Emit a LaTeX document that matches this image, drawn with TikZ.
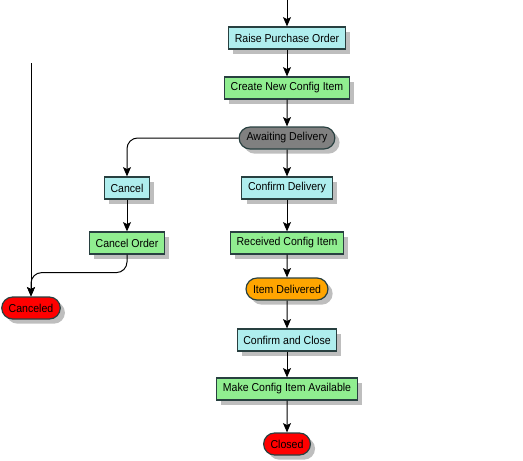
\documentclass[tikz,border=0pt]{standalone}
\usepackage{fontspec}
\setmainfont[FakeStretch=0.92]{Liberation Sans}
\definecolor{wfTask}{RGB}{175, 238, 238}
\definecolor{wfItem}{RGB}{144, 238, 144}
\definecolor{wfWait}{RGB}{128, 128, 128}
\definecolor{wfDone}{RGB}{255, 165, 0}
\definecolor{wfStop}{RGB}{255, 0, 0}
\definecolor{wfEdge}{RGB}{40, 64, 64}
\definecolor{wfShade}{RGB}{190, 190, 190}
\usetikzlibrary{shapes.misc, arrows.meta, shadows, positioning}

\begin{document}
\begin{tikzpicture}[x=0.75pt, y=-0.75pt,
    base/.style={draw=wfEdge, line width=0.9pt, minimum height=16.5pt, inner xsep=4.6pt,
      font=\fontsize{8.6}{10}\selectfont,
      drop shadow={shadow xshift=3.5pt, shadow yshift=-3.5pt, fill=wfShade, opacity=1}},
    taskbox/.style={base, fill=wfTask},
    itembox/.style={base, fill=wfItem},
    waitpill/.style={base, rounded rectangle, fill=wfWait},
    donepill/.style={base, rounded rectangle, fill=wfDone},
    stoppill/.style={base, rounded rectangle, fill=wfStop},
    flow/.style={line width=0.75pt, -{Stealth[length=7pt, width=6pt, inset=1.5pt]}}]
  \useasboundingbox (0,0) rectangle (523,460);

  % main column
  \foreach \nm/\txt/\kind/\y in {
    raise/Raise Purchase Order/taskbox/38,
    create/Create New Config Item/itembox/88,
    await/Awaiting Delivery/waitpill/138,
    confirm/Confirm Delivery/taskbox/188,
    received/Received Config Item/itembox/243,
    delivered/Item Delivered/donepill/289,
    close/Confirm and Close/taskbox/340,
    avail/Make Config Item Available/itembox/389,
    closed/Closed/stoppill/444%
  } {
    \node[\kind] (\nm) at (287, \y) {\txt};
  }

  % cancel branch
  \node[taskbox] (cancel) at (127, 188) {Cancel};
  \node[itembox] (cancelord) at (127, 243) {Cancel Order};
  \node[stoppill] (canceled) at (31, 308) {Canceled};

  \coordinate (entry) at (287, 0);
  \coordinate (sideentry) at (31, 63);

  \draw[flow] (entry) -- (raise);
  \foreach \a/\b in {raise/create, create/await, await/confirm, confirm/received,
    received/delivered, delivered/close, close/avail, avail/closed} {
    \draw[flow] (\a) -- (\b);
  }
  \draw[flow, rounded corners=8pt] (await.west) -| (cancel.north);
  \draw[flow] (cancel) -- (cancelord);
  \draw[flow, rounded corners=8pt] (cancelord.south) -- ++(0,18) -| (canceled.north);
  \draw[flow] (sideentry) -- (canceled.north);
\end{tikzpicture}
\end{document}
